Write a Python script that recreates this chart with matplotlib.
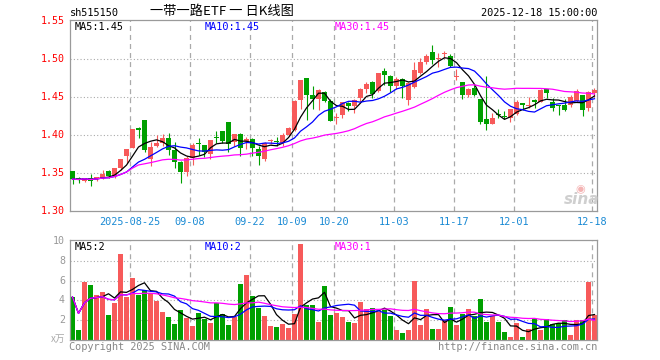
import numpy as np
import pandas as pd
import matplotlib
matplotlib.use("Agg")
import matplotlib.pyplot as plt

plt.rcParams['lines.scale_dashes'] = False

# daily OHLC, 2025-08-11 .. 2025-12-18
opens = [1.352, 1.343, 1.340, 1.344, 1.342, 1.344, 1.352, 1.346, 1.357, 1.373,
         1.383, 1.409, 1.420, 1.368, 1.385, 1.390, 1.396, 1.380, 1.365, 1.351,
         1.370, 1.389, 1.387, 1.375, 1.397, 1.405, 1.417, 1.391, 1.401, 1.392,
         1.395, 1.382, 1.368, 1.392, 1.392, 1.389, 1.400, 1.407, 1.446, 1.475,
         1.452, 1.447, 1.457, 1.445, 1.422, 1.426, 1.442, 1.438, 1.449, 1.460,
         1.470, 1.458, 1.484, 1.478, 1.465, 1.474, 1.446, 1.463, 1.482, 1.496,
         1.509, 1.500, 1.507, 1.504, 1.476, 1.470, 1.452, 1.462, 1.448, 1.421,
         1.415, 1.427, 1.425, 1.423, 1.427, 1.442, 1.438, 1.446, 1.443, 1.460,
         1.444, 1.439, 1.440, 1.440, 1.445, 1.452, 1.436, 1.455]
highs = [1.352, 1.345, 1.344, 1.349, 1.345, 1.354, 1.354, 1.357, 1.369, 1.381,
         1.408, 1.411, 1.420, 1.391, 1.400, 1.401, 1.402, 1.391, 1.366, 1.372,
         1.389, 1.396, 1.387, 1.394, 1.405, 1.405, 1.417, 1.401, 1.402, 1.397,
         1.396, 1.385, 1.391, 1.395, 1.398, 1.402, 1.410, 1.446, 1.473, 1.475,
         1.464, 1.461, 1.458, 1.447, 1.429, 1.444, 1.443, 1.447, 1.462, 1.470,
         1.471, 1.482, 1.488, 1.479, 1.476, 1.475, 1.470, 1.496, 1.501, 1.506,
         1.518, 1.508, 1.510, 1.506, 1.487, 1.470, 1.462, 1.466, 1.448, 1.477,
         1.429, 1.434, 1.432, 1.434, 1.446, 1.442, 1.450, 1.448, 1.460, 1.460,
         1.449, 1.440, 1.447, 1.452, 1.461, 1.452, 1.458, 1.462]
lows = [1.336, 1.337, 1.338, 1.333, 1.339, 1.342, 1.344, 1.344, 1.354, 1.363,
        1.383, 1.396, 1.378, 1.359, 1.384, 1.385, 1.374, 1.356, 1.337, 1.346,
        1.361, 1.374, 1.371, 1.369, 1.390, 1.390, 1.377, 1.386, 1.373, 1.381,
        1.372, 1.360, 1.366, 1.388, 1.386, 1.385, 1.399, 1.405, 1.434, 1.420,
        1.434, 1.433, 1.443, 1.418, 1.415, 1.422, 1.432, 1.429, 1.443, 1.455,
        1.449, 1.456, 1.466, 1.457, 1.460, 1.449, 1.439, 1.462, 1.480, 1.493,
        1.493, 1.489, 1.501, 1.490, 1.472, 1.447, 1.450, 1.451, 1.414, 1.407,
        1.414, 1.422, 1.421, 1.417, 1.426, 1.433, 1.436, 1.436, 1.443, 1.449,
        1.432, 1.426, 1.432, 1.437, 1.443, 1.425, 1.432, 1.450]
closes = [1.342, 1.341, 1.344, 1.339, 1.345, 1.349, 1.346, 1.357, 1.369, 1.381,
          1.408, 1.406, 1.380, 1.384, 1.390, 1.396, 1.380, 1.365, 1.351, 1.370,
          1.387, 1.388, 1.377, 1.394, 1.396, 1.392, 1.388, 1.401, 1.383, 1.395,
          1.383, 1.372, 1.390, 1.393, 1.391, 1.400, 1.409, 1.445, 1.472, 1.452,
          1.447, 1.459, 1.445, 1.419, 1.423, 1.443, 1.438, 1.446, 1.460, 1.467,
          1.454, 1.481, 1.479, 1.464, 1.474, 1.464, 1.468, 1.485, 1.496, 1.504,
          1.499, 1.501, 1.508, 1.491, 1.477, 1.452, 1.461, 1.452, 1.417, 1.414,
          1.422, 1.426, 1.424, 1.434, 1.444, 1.439, 1.439, 1.443, 1.459, 1.455,
          1.435, 1.438, 1.433, 1.450, 1.458, 1.433, 1.457, 1.459]
# volume, in 万
vols = [4.34, 1.04, 5.9, 5.6, 4.55, 4.8, 2.5, 3.75, 8.7, 4.3,
        6.3, 4.5, 5.1, 4.7, 3.97, 2.86, 2.3, 1.6, 3.0, 2.2,
        1.45, 2.76, 2.1, 1.7, 3.74, 2.6, 1.5, 2.36, 5.66, 6.6,
        4.44, 3.23, 2.42, 1.41, 1.31, 1.6, 1.25, 2.66, 9.7, 3.54,
        3.54, 1.85, 5.45, 2.5, 2.76, 2.3, 1.85, 1.7, 3.87, 3.1,
        3.23, 2.86, 3.03, 2.42, 1.04, 0.7, 1.04, 6.0, 1.5, 3.13,
        1.1, 1.1, 2.0, 3.33, 1.5, 2.6, 3.13, 2.42, 4.14, 1.8,
        2.42, 1.8, 0.8, 0.3, 1.7, 0.3, 1.1, 2.1, 1.0, 2.1,
        1.6, 1.7, 2.0, 0.5, 2.0, 2.0, 5.86, 2.5]

tick_pos = [10, 20, 30, 37, 44, 54, 64, 74, 87]
tick_labels = ['2025-08-25', '09-08', '09-22', '10-09', '10-20',
               '11-03', '11-17', '12-01', '12-18']
price_ticks = [1.30, 1.35, 1.40, 1.45, 1.50, 1.55]
vol_ticks = [2, 4, 6, 8, 10]

RED = '#f75a5a'
GREEN = '#00a000'
FRAME = '#9a9a9a'
GRID = '#aaaaaa'
MONO = 'DejaVu Sans Mono'
W, H = 660, 360

df = pd.DataFrame({'o': opens, 'h': highs, 'l': lows, 'c': closes, 'v': vols})
x = np.arange(len(df))
up = df['c'] >= df['o']
colors = np.where(up, RED, GREEN)

fig = plt.figure(figsize=(6.6, 3.6), dpi=100)
ax1 = fig.add_axes([70 / W, 1 - 211 / H, 527 / W, 191 / H])
ax2 = fig.add_axes([70 / W, 1 - 340 / H, 527 / W, 100 / H])

xlim = (-2.5 / 6, len(df) - 1 + (597 - 72.5 - 6 * (len(df) - 1)) / 6)
for ax in (ax1, ax2):
    ax.set_xlim(*xlim)
    ax.set_xticks([])
    ax.set_yticks([])
    for s in ax.spines.values():
        s.set_color(FRAME)
        s.set_linewidth(0.9)
    for p in tick_pos:
        ax.axvline(p - 0.42, color=GRID, lw=0.9, ls=(0, (3.6, 2.9)), zorder=0)

ax1.set_ylim(1.30, 1.30 + 191 / 760)
ax2.set_ylim(0, 100 / 9.9)
for p in price_ticks[1:-1]:
    ax1.axhline(p, color=GRID, lw=0.8, ls=(0, (0.8, 1.6)), zorder=0)
for v in vol_ticks[:-1]:
    ax2.axhline(v, color=GRID, lw=0.8, ls=(0, (0.8, 1.6)), zorder=0)

# candles
ax1.vlines(x, df['l'], df['h'], colors=colors, lw=0.8, zorder=2)
body_bot = np.minimum(df['o'], df['c'])
body_h = np.maximum((df['c'] - df['o']).abs(), 0.0014)
ax1.bar(x, body_h, bottom=body_bot, width=5 / 6, color=colors, linewidth=0, zorder=3)

# moving averages
for n, col in [(5, 'black'), (10, '#0000ff'), (30, '#ff00ff')]:
    ax1.plot(x, df['c'].rolling(n, min_periods=1).mean(), color=col, lw=0.9, zorder=4)
    ax2.plot(x, df['v'].rolling(n, min_periods=1).mean(), color=col, lw=0.9, zorder=4)

ax2.bar(x, df['v'], width=5 / 6, color=colors, linewidth=0, zorder=2)


def px_text(px, py, s, **kw):
    fig.text(px / W, 1 - py / H, s, **kw)


for p in price_ticks:
    py = 211 - (p - 1.30) * 760
    px_text(65, py, f'{p:.2f}', color='red', fontsize=7.2, family=MONO, ha='right', va='center')
for v in vol_ticks:
    py = 340 - v * 9.9
    px_text(65, py, str(v), color='#999999', fontsize=7.2, family=MONO, ha='right', va='center')
px_text(65, 339, 'x万', color='#aaaaaa', fontsize=7, family=['Noto Sans CJK SC', 'DejaVu Sans'],
        ha='right', va='center')

for p, lab in zip(tick_pos, tick_labels):
    px_text(130 + 6 * (p - 10), 222, lab, color='#1a8ad4', fontsize=7.4, family=MONO,
            ha='center', va='center')

px_text(70, 13, 'sh515150', color='black', fontsize=7.4, family=MONO, va='center')
px_text(222, 12, '一带一路ETF 一 日K线图', color='black', fontsize=9.5,
        family=['Noto Sans CJK SC', 'DejaVu Sans'], ha='center', va='center')
px_text(597, 13, '2025-12-18 15:00:00', color='black', fontsize=7.4, family=MONO,
        ha='right', va='center')

px_text(75, 27, 'MA5:1.45', color='black', fontsize=7.4, family=MONO, va='center')
px_text(205, 27, 'MA10:1.45', color='#0000ff', fontsize=7.4, family=MONO, va='center')
px_text(335, 27, 'MA30:1.45', color='#ff00ff', fontsize=7.4, family=MONO, va='center')
px_text(75, 247, 'MA5:2', color='black', fontsize=7.4, family=MONO, va='center')
px_text(205, 247, 'MA10:2', color='#0000ff', fontsize=7.4, family=MONO, va='center')
px_text(335, 247, 'MA30:1', color='#ff00ff', fontsize=7.4, family=MONO, va='center')

px_text(69, 347, 'Copyright 2025 SINA.COM', color='#888888', fontsize=7.4, family=MONO, va='center')
px_text(597, 347, 'http://finance.sina.com.cn', color='#888888', fontsize=7.4, family=MONO,
        ha='right', va='center')

# watermark
px_text(582, 200, 'sina', color='#cfcfcf', fontsize=11, weight='bold', style='italic',
        ha='center', va='center', zorder=1)
px_text(580, 189, '◉', color='#f4b4b4', fontsize=8, ha='center', va='center', zorder=1)

fig.savefig('out.png', dpi=100)
